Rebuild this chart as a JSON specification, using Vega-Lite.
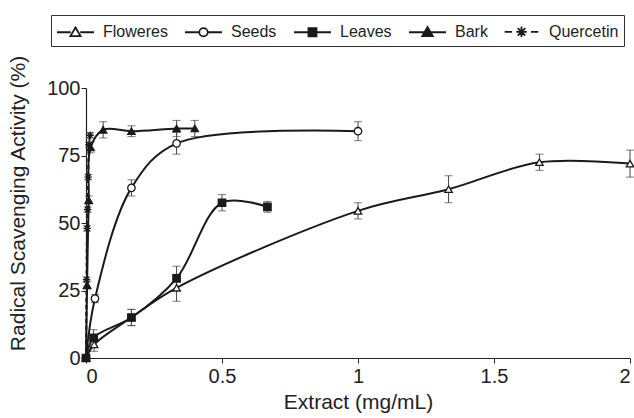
{
  "$schema": "https://vega.github.io/schema/vega-lite/v6.json",
  "width": 544,
  "height": 270,
  "autosize": {"type": "none"},
  "padding": {"left": 86, "top": 88, "right": 4, "bottom": 60},
  "background": "white",
  "config": {
    "view": {"stroke": null},
    "font": "Liberation Sans",
    "axis": {
      "grid": false,
      "domainColor": "#222",
      "domainWidth": 1.2,
      "tickColor": "#222",
      "tickSize": 5,
      "labelFont": "Liberation Sans",
      "labelFontSize": 20,
      "labelColor": "#222",
      "titleFont": "Liberation Sans",
      "titleFontSize": 21,
      "titleFontWeight": "normal",
      "titleColor": "#222"
    }
  },
  "data": {
    "values": [
      {"s": "Floweres", "x": 0, "v": 0, "e": 0},
      {"s": "Floweres", "x": 0.03, "v": 5, "e": 2.5},
      {"s": "Floweres", "x": 0.167, "v": 15, "e": 3},
      {"s": "Floweres", "x": 0.333, "v": 26, "e": 5},
      {"s": "Floweres", "x": 1.0, "v": 54.5, "e": 3},
      {"s": "Floweres", "x": 1.333, "v": 62.5, "e": 5},
      {"s": "Floweres", "x": 1.667, "v": 72.5, "e": 3},
      {"s": "Floweres", "x": 2.0, "v": 72, "e": 5},
      {"s": "Seeds", "x": 0, "v": 0, "e": 0},
      {"s": "Seeds", "x": 0.033, "v": 22, "e": 1.5},
      {"s": "Seeds", "x": 0.167, "v": 63, "e": 3},
      {"s": "Seeds", "x": 0.333, "v": 79.5, "e": 4},
      {"s": "Seeds", "x": 1.0, "v": 84, "e": 3.5},
      {"s": "Leaves", "x": 0, "v": 0, "e": 0},
      {"s": "Leaves", "x": 0.028, "v": 7.5, "e": 3},
      {"s": "Leaves", "x": 0.167, "v": 15, "e": 3},
      {"s": "Leaves", "x": 0.333, "v": 29.5, "e": 4.5},
      {"s": "Leaves", "x": 0.5, "v": 57.5, "e": 3},
      {"s": "Leaves", "x": 0.667, "v": 56, "e": 2},
      {"s": "Bark", "x": 0, "v": 0, "e": 0},
      {"s": "Bark", "x": 0.004, "v": 27, "e": 1.5},
      {"s": "Bark", "x": 0.01, "v": 58.5, "e": 1.5},
      {"s": "Bark", "x": 0.017, "v": 78, "e": 2},
      {"s": "Bark", "x": 0.063, "v": 84.5, "e": 3},
      {"s": "Bark", "x": 0.167, "v": 84, "e": 2},
      {"s": "Bark", "x": 0.333, "v": 85, "e": 3},
      {"s": "Bark", "x": 0.4, "v": 85, "e": 3},
      {"s": "Quercetin", "x": 0, "v": 0, "e": 0},
      {"s": "Quercetin", "x": 0.002, "v": 29, "e": 1},
      {"s": "Quercetin", "x": 0.004, "v": 48, "e": 1},
      {"s": "Quercetin", "x": 0.006, "v": 55, "e": 1},
      {"s": "Quercetin", "x": 0.008, "v": 67, "e": 1},
      {"s": "Quercetin", "x": 0.011, "v": 79, "e": 1},
      {"s": "Quercetin", "x": 0.015, "v": 82.5, "e": 1}
    ]
  },
  "encoding": {
    "x": {
      "field": "x", "type": "quantitative",
      "scale": {"domain": [0, 2], "nice": false, "zero": true},
      "axis": {"values": [0, 0.5, 1, 1.5, 2], "format": "~g", "title": "Extract (mg/mL)", "labelPadding": 3, "titlePadding": 5}
    },
    "y": {
      "field": "v", "type": "quantitative",
      "scale": {"domain": [0, 100], "nice": false},
      "axis": {"values": [0, 25, 50, 75, 100], "title": "Radical Scavenging Activity (%)", "labelPadding": 1, "titleX": -58, "titleY": 115, "titleAlign": "center", "titleAngle": 270}
    }
  },
  "layer": [
    {
      "mark": {"type": "errorbar", "ticks": {"size": 8, "color": "#444"}, "color": "#444", "thickness": 1},
      "encoding": {
        "yError": {"field": "e"},
        "detail": {"field": "s"}
      }
    },
    {
      "transform": [{"filter": "datum.s !== 'Quercetin'"}],
      "mark": {"type": "line", "interpolate": "catmull-rom", "strokeWidth": 2, "color": "#1a1a1a"},
      "encoding": {"detail": {"field": "s"}}
    },
    {
      "transform": [{"filter": "datum.s === 'Quercetin'"}],
      "mark": {"type": "line", "interpolate": "catmull-rom", "strokeWidth": 2, "color": "#1a1a1a", "strokeDash": [4, 3]},
      "encoding": {"detail": {"field": "s"}}
    },
    {
      "transform": [{"filter": "datum.s === 'Floweres'"}],
      "mark": {"type": "point", "shape": "triangle-up", "size": 55, "strokeWidth": 1.3, "stroke": "#1a1a1a", "fill": "white", "opacity": 1},
      "encoding": {}
    },
    {
      "transform": [{"filter": "datum.s === 'Seeds'"}],
      "mark": {"type": "point", "shape": "circle", "size": 55, "strokeWidth": 1.3, "stroke": "#1a1a1a", "fill": "white", "opacity": 1},
      "encoding": {}
    },
    {
      "transform": [{"filter": "datum.s === 'Leaves'"}],
      "mark": {"type": "point", "shape": "square", "size": 55, "strokeWidth": 1.3, "stroke": "#1a1a1a", "fill": "#1a1a1a", "opacity": 1},
      "encoding": {}
    },
    {
      "transform": [{"filter": "datum.s === 'Bark'"}],
      "mark": {"type": "point", "shape": "triangle-up", "size": 55, "strokeWidth": 1.3, "stroke": "#1a1a1a", "fill": "#1a1a1a", "opacity": 1},
      "encoding": {}
    },
    {
      "transform": [{"filter": "datum.s === 'Quercetin'"}],
      "mark": {"type": "point", "shape": "M-1,0H1M0,-1V1M-0.7,-0.7L0.7,0.7M-0.7,0.7L0.7,-0.7", "size": 55, "strokeWidth": 1.3, "stroke": "#1a1a1a", "opacity": 1},
      "encoding": {}
    },
    {
      "transform": [{"filter": "false"}],
      "mark": {"type": "point", "strokeWidth": 1.8, "stroke": "#1a1a1a", "opacity": 1},
      "encoding": {
        "shape": {
          "field": "s", "type": "nominal",
          "scale": {
            "domain": ["Floweres", "Seeds", "Leaves", "Bark", "Quercetin"],
            "range": [
              "M-1.76,0H-0.45M0.45,0H1.76M0,-0.45L0.48,0.36L-0.48,0.36Z",
              "M-1.76,0H-0.4M0.4,0H1.76M-0.4,0A0.4,0.4,0,1,1,0.4,0A0.4,0.4,0,1,1,-0.4,0Z",
              "M-1.76,0H1.76M-0.38,-0.38H0.38V0.38H-0.38Z",
              "M-1.76,0H1.76M0,-0.5L0.5,0.36L-0.5,0.36Z",
              "M-1.6,0H-0.9M0.9,0H1.6M-0.5,0H0.5M0,-0.5V0.5M-0.36,-0.36L0.36,0.36M-0.36,0.36L0.36,-0.36"
            ]
          },
          "legend": {
            "title": null,
            "orient": "none",
            "direction": "horizontal",
            "legendX": -35,
            "legendY": -73,
            "strokeColor": "#333",
            "padding": 5,
            "symbolSize": 441,
            "symbolOffset": 8,
            "symbolStrokeWidth": 1.8,
            "symbolOpacity": 1,
            "labelFont": "Liberation Sans",
            "labelFontSize": 16,
            "labelColor": "#222",
            "labelOffset": 16,
            "columnPadding": 13,
            "encode": {
              "symbols": {
                "stroke": {"value": "#1a1a1a"},
                "strokeWidth": {"value": 1.8},
                "strokeOpacity": {"value": 1}
              }
            }
          }
        },
        "fill": {
          "field": "s", "type": "nominal",
          "scale": {
            "domain": ["Floweres", "Seeds", "Leaves", "Bark", "Quercetin"],
            "range": ["white", "white", "#1a1a1a", "#1a1a1a", "white"]
          },
          "legend": {
            "title": null,
            "orient": "none",
            "direction": "horizontal",
            "legendX": -35,
            "legendY": -73,
            "strokeColor": "#333",
            "padding": 5,
            "symbolSize": 441,
            "symbolOffset": 8,
            "symbolStrokeWidth": 1.8,
            "symbolOpacity": 1,
            "labelFont": "Liberation Sans",
            "labelFontSize": 16,
            "labelColor": "#222",
            "labelOffset": 16,
            "columnPadding": 13,
            "encode": {
              "symbols": {
                "stroke": {"value": "#1a1a1a"},
                "strokeWidth": {"value": 1.8},
                "strokeOpacity": {"value": 1}
              }
            }
          }
        }
      }
    }
  ]
}
